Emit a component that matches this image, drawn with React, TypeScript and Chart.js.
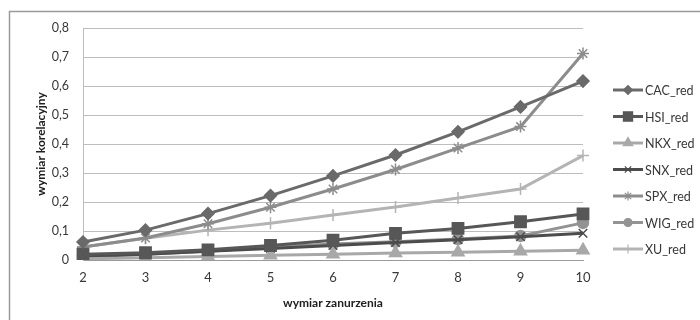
import React, { useEffect, useRef } from "react";
import { Chart, registerables } from "chart.js";
import { drawPoint } from "chart.js/helpers";

Chart.register(...registerables);

const categories = ["2", "3", "4", "5", "6", "7", "8", "9", "10"];
const CAC_red = [0.062, 0.103, 0.16, 0.222, 0.29, 0.362, 0.442, 0.528, 0.617];
const HSI_red = [0.02, 0.025, 0.035, 0.05, 0.068, 0.092, 0.109, 0.132, 0.159];
const NKX_red = [0.004, 0.008, 0.012, 0.016, 0.02, 0.024, 0.027, 0.03, 0.034];
const SNX_red = [0.01, 0.02, 0.03, 0.04, 0.05, 0.06, 0.07, 0.08, 0.092];
const SPX_red = [0.045, 0.076, 0.125, 0.182, 0.245, 0.312, 0.386, 0.46, 0.712];
const WIG_red = [0.015, 0.02, 0.03, 0.045, 0.055, 0.063, 0.072, 0.083, 0.128];
const XU_red = [0.045, 0.075, 0.103, 0.127, 0.155, 0.183, 0.214, 0.245, 0.36];
const seriesNames = ["CAC_red", "HSI_red", "NKX_red", "SNX_red", "SPX_red", "WIG_red", "XU_red"];
const seriesValues = [CAC_red, HSI_red, NKX_red, SNX_red, SPX_red, WIG_red, XU_red];
const seriesColors = ["#6a6a6a", "#575757", "#a8a8a8", "#4c4c4c", "#8c8c8c", "#939393", "#b4b4b4"];
const seriesMarkers = ["rectRot", "rect", "triangle", "crossRot", "star", "circle", "cross"];
const seriesRadius = [6, 8, 7, 6, 6, 5.5, 6];
const yTicks = [0, 0.1, 0.2, 0.3, 0.4, 0.5, 0.6, 0.7, 0.8];
const xTitle = "wymiar zanurzenia";
const yTitle = "wymiar korelacyjny";

const FONT = "Lato, 'Open Sans', sans-serif";

const frameAndLegend = {
  id: "frameAndLegend",
  beforeDraw(chart: any) {
    const ctx = chart.ctx;
    ctx.save();
    ctx.fillStyle = "#ffffff";
    ctx.fillRect(0, 0, chart.width, chart.height);
    ctx.strokeStyle = "#9a9a9a";
    ctx.lineWidth = 1.5;
    ctx.beginPath();
    ctx.moveTo(9.5, chart.height);
    ctx.lineTo(9.5, 11.5);
    ctx.lineTo(chart.width, 11.5);
    ctx.stroke();
    ctx.restore();
  },
  afterDraw(chart: any) {
    const ctx = chart.ctx;
    ctx.save();
    chart.data.datasets.forEach((ds: any, i: number) => {
      const y = 90 + i * 26.5;
      ctx.strokeStyle = ds.borderColor;
      ctx.lineWidth = 3;
      ctx.beginPath();
      ctx.moveTo(613, y);
      ctx.lineTo(643, y);
      ctx.stroke();
      ctx.fillStyle = ds.borderColor;
      ctx.strokeStyle = ds.borderColor;
      ctx.lineWidth = 1.2;
      drawPoint(ctx, { pointStyle: ds.pointStyle, radius: ds.pointRadius - 1.5, rotation: 0, borderWidth: 1.2 }, 628, y);
      ctx.fillStyle = "#383838";
      ctx.font = `12.5px ${FONT}`;
      ctx.textAlign = "left";
      ctx.textBaseline = "middle";
      ctx.fillText(ds.label, 645, y + 1);
    });
    ctx.restore();
  },
};

export default function App() {
  const ref = useRef<HTMLCanvasElement>(null);
  useEffect(() => {
    if (!ref.current) return;
    const chart = new Chart(ref.current, {
      type: "line",
      data: {
        labels: categories,
        datasets: seriesNames.map((name, i) => ({
          label: name,
          data: seriesValues[i],
          borderColor: seriesColors[i],
          backgroundColor: seriesColors[i],
          pointBackgroundColor: seriesColors[i],
          pointBorderColor: seriesColors[i],
          pointStyle: seriesMarkers[i] as any,
          pointRadius: seriesRadius[i],
          pointBorderWidth: 1.5,
          borderWidth: 3,
          tension: 0,
          fill: false,
        })),
      },
      options: {
        animation: false,
        responsive: false,
        maintainAspectRatio: false,
        layout: { padding: { left: 30, top: 28, right: 117, bottom: 6 } },
        plugins: { legend: { display: false }, tooltip: { enabled: false } },
        scales: {
          x: {
            offset: false,
            grid: { display: false, drawTicks: false },
            border: { display: true, color: "#9a9a9a", width: 1 },
            ticks: { color: "#383838", font: { family: FONT, size: 13 }, padding: 10, maxRotation: 0 },
            title: { display: true, text: xTitle, color: "#202020", font: { family: FONT, size: 12, weight: "bold" }, padding: { top: 0, bottom: 4 } },
            afterFit: (s: any) => { s.height = 54; },
          },
          y: {
            min: 0,
            max: 0.8,
            afterBuildTicks: (s: any) => { s.ticks = yTicks.map((v) => ({ value: v })); },
            grid: { color: "#bdbdbd", lineWidth: 1, drawTicks: false },
            border: { display: true, color: "#bdbdbd", width: 1 },
            ticks: {
              color: "#383838",
              font: { family: FONT, size: 12.5 },
              padding: 14,
              callback: (v: any) => (Number(v) === 0 ? "0" : Number(v).toFixed(1).replace(".", ",")),
            },
            title: { display: true, text: yTitle, color: "#202020", font: { family: FONT, size: 12, weight: "bold" }, padding: { top: 4, bottom: 0 } },
            afterFit: (s: any) => { s.width = 53; },
          },
        },
      },
      plugins: [frameAndLegend],
    });
    return () => chart.destroy();
  }, []);
  return (
    <div style={{ position: "fixed", left: 0, top: 0, width: 700, height: 320, background: "#fff" }}>
      <canvas ref={ref} width={700} height={320} style={{ display: "block", width: 700, height: 320 }} />
    </div>
  );
}
